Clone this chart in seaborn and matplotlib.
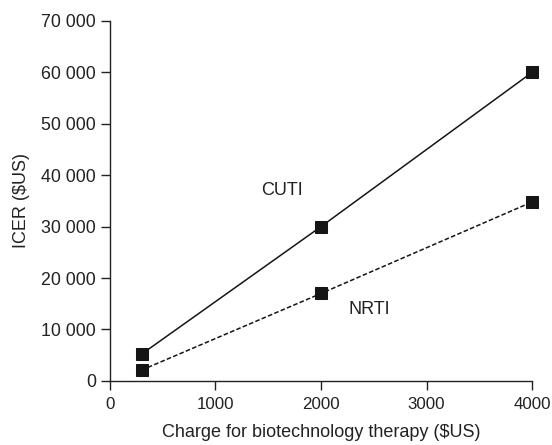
import matplotlib
matplotlib.use("Agg")
import matplotlib.pyplot as plt
import seaborn as sns
import pandas as pd
from matplotlib.ticker import FuncFormatter

charge = [300, 2000, 4000]
cuti = [5200, 30000, 60000]
nrti = [2100, 17000, 34800]

sns.set_theme(style="ticks")
plt.rcParams['font.family'] = ['Liberation Sans', 'DejaVu Sans']

df = pd.DataFrame({
    "charge": charge * 2,
    "icer": cuti + nrti,
    "group": ["CUTI"] * 3 + ["NRTI"] * 3,
})

fig = plt.figure(figsize=(5.52, 4.45), dpi=100)
ax = fig.add_axes([0.199, 0.144, 0.765, 0.809])

color = "#151515"
sns.lineplot(data=df[df.group == "CUTI"], x="charge", y="icer", ax=ax,
             color=color, linewidth=1.1, marker="s", markersize=8.5,
             markeredgecolor=color, markerfacecolor=color)
sns.lineplot(data=df[df.group == "NRTI"], x="charge", y="icer", ax=ax,
             color=color, linewidth=1.1, linestyle=(0, (3, 1.5)), marker="s",
             markersize=8.5, markeredgecolor=color, markerfacecolor=color)

ax.set_xlim(0, 4000)
ax.set_ylim(0, 70000)
ax.set_xticks([0, 1000, 2000, 3000, 4000])
ax.set_yticks(range(0, 70001, 10000))
ax.yaxis.set_major_formatter(FuncFormatter(lambda v, p: f"{int(v):,}".replace(",", " ")))
for s in ["top", "right"]:
    ax.spines[s].set_visible(False)
for s in ["left", "bottom"]:
    ax.spines[s].set_color("#222222")
    ax.spines[s].set_linewidth(1.0)
ax.tick_params(axis="both", colors="#222222", length=6.5, width=1.0)
ax.tick_params(axis="x", labelsize=12.2, pad=5)
ax.tick_params(axis="y", labelsize=12.8)
ax.set_xlabel("Charge for biotechnology therapy ($US)", fontsize=13, color="#222222", labelpad=9)
ax.set_ylabel("ICER ($US)", fontsize=13, color="#222222", labelpad=8)
ax.text(1630, 37100, "CUTI", fontsize=13, color="#222222", ha="center", va="center")
ax.text(2460, 13800, "NRTI", fontsize=13, color="#222222", ha="center", va="center")
for sp in ax.spines.values():
    sp.set_clip_on(False)
for line in ax.lines:
    line.set_clip_on(False)

fig.savefig("out.png", dpi=100)
